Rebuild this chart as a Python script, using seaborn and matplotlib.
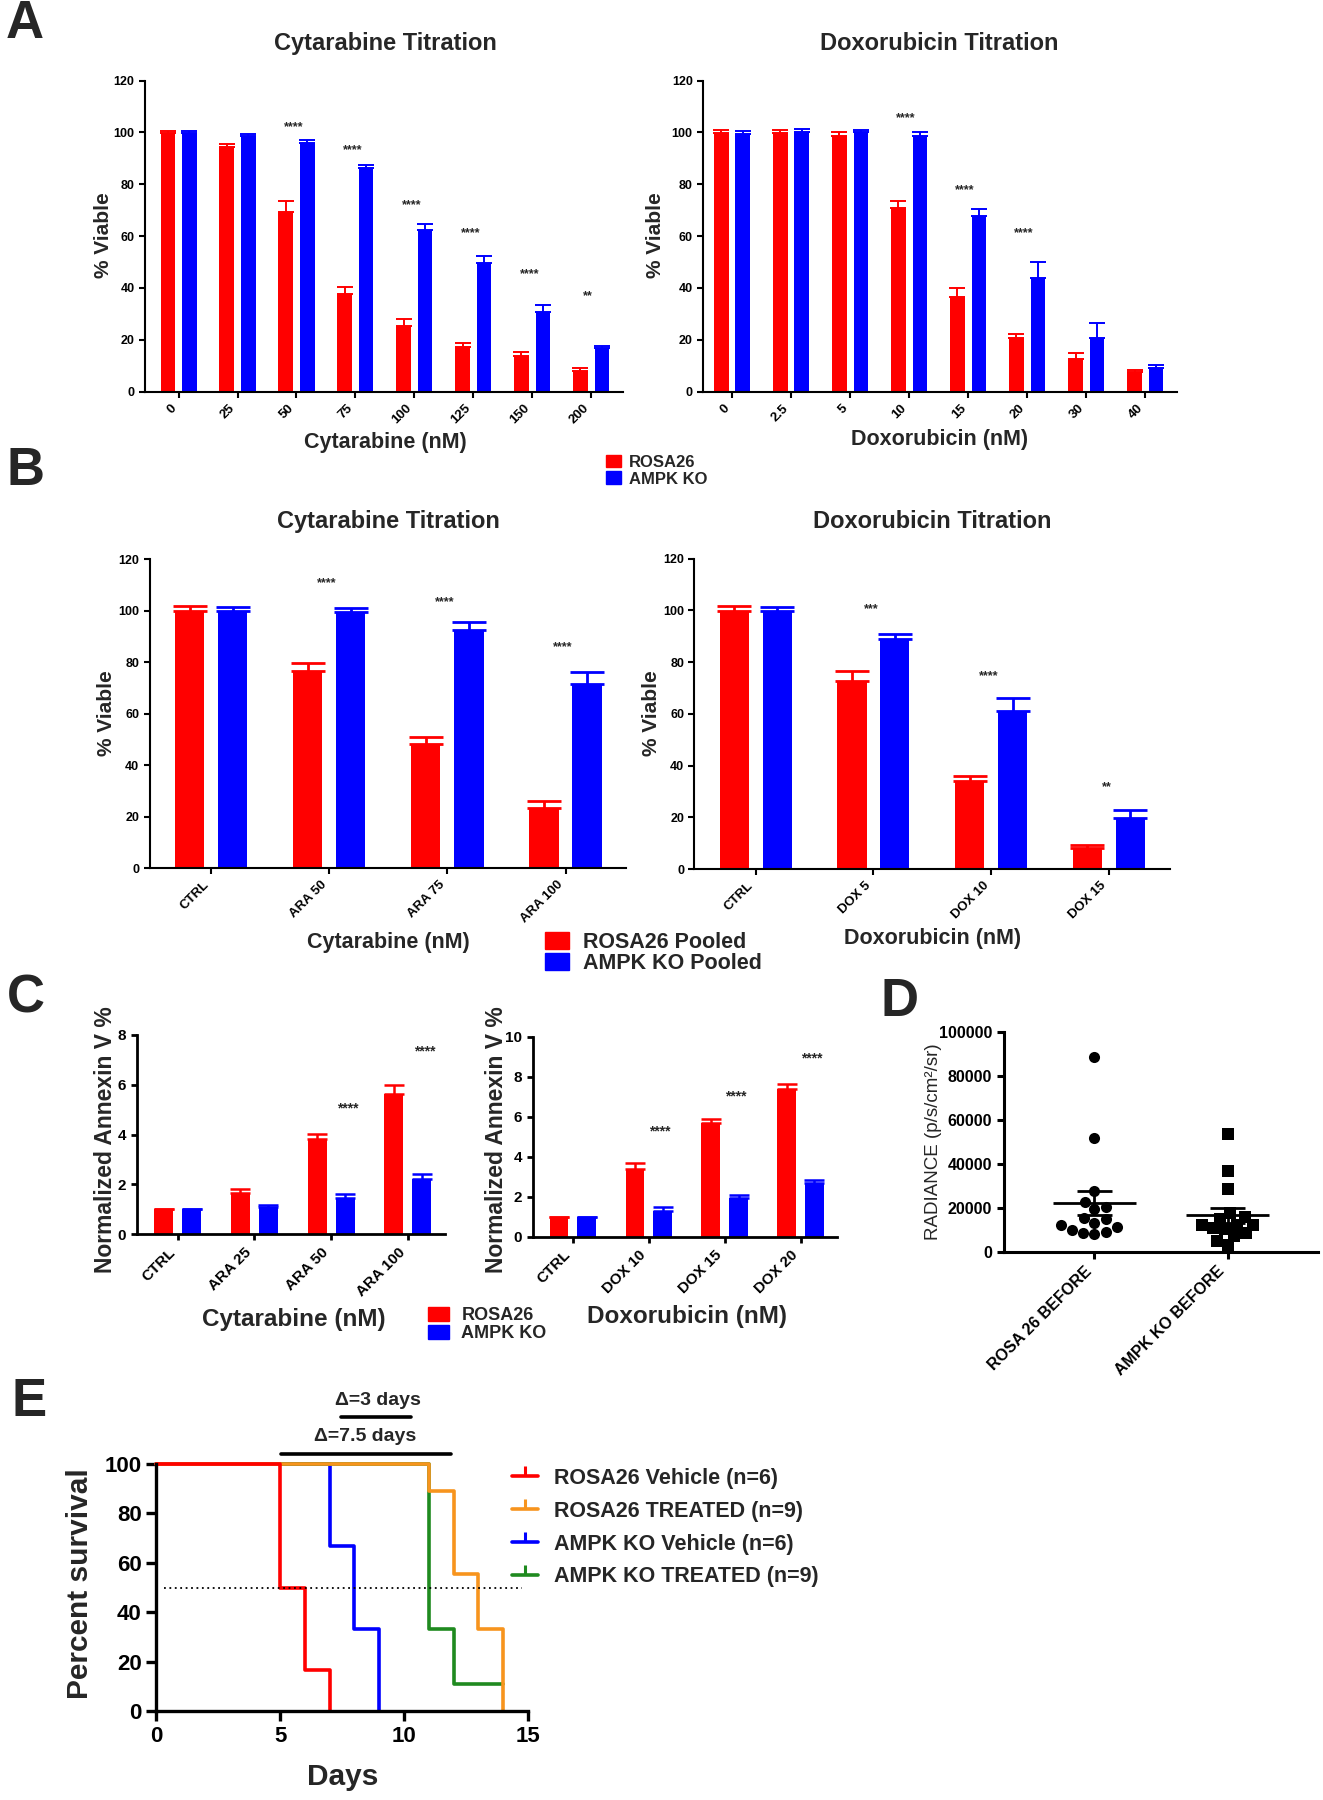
import numpy as np
import pandas as pd
import matplotlib
matplotlib.use("Agg")
import matplotlib.pyplot as plt
import seaborn as sns
from matplotlib.patches import Patch
from matplotlib.lines import Line2D

# ---------------- data ----------------
# Panel A : titrations (% viable, mean and SEM)
cyt_doses = ["0", "25", "50", "75", "100", "125", "150", "200"]
cyt_rosa26 = [99.7, 94.5, 69.5, 37.7, 25.3, 17.4, 13.8, 8.1]
cyt_rosa26_sem = [1.0, 0.9, 4.1, 2.5, 2.6, 1.5, 1.4, 0.9]
cyt_ampk = [99.7, 98.7, 95.8, 86.2, 62.4, 49.5, 30.9, 16.7]
cyt_ampk_sem = [1.0, 0.8, 1.3, 1.3, 2.4, 3.0, 2.6, 1.0]
cyt_sig = ["", "", "****", "****", "****", "****", "****", "**"]

dox_doses = ["0", "2.5", "5", "10", "15", "20", "30", "40"]
dox_rosa26 = [99.9, 99.9, 98.8, 71.0, 36.4, 20.6, 12.6, 7.6]
dox_rosa26_sem = [1.0, 1.0, 1.4, 2.5, 3.6, 1.8, 2.2, 0.6]
dox_ampk = [99.6, 100.3, 100.3, 98.8, 67.6, 43.9, 20.9, 9.0]
dox_ampk_sem = [1.0, 1.0, 0.7, 1.2, 3.0, 6.3, 5.5, 1.3]
dox_sig = ["", "", "", "****", "****", "****", "", ""]

# Panel B : pooled titrations
ara_pooled = ["CTRL", "ARA 50", "ARA 75", "ARA 100"]
ara_rosa26_pooled = [100.0, 76.6, 48.1, 23.4]
ara_rosa26_pooled_sem = [1.8, 3.2, 2.7, 2.7]
ara_ampk_pooled = [100.0, 99.3, 92.6, 71.4]
ara_ampk_pooled_sem = [1.3, 1.7, 3.1, 4.7]
ara_pooled_sig = ["", "****", "****", "****"]

dox_pooled = ["CTRL", "DOX 5", "DOX 10", "DOX 15"]
dox_rosa26_pooled = [99.9, 72.7, 34.2, 8.0]
dox_rosa26_pooled_sem = [1.8, 3.7, 1.9, 1.4]
dox_ampk_pooled = [99.8, 88.9, 61.0, 19.9]
dox_ampk_pooled_sem = [1.4, 2.1, 5.3, 3.0]
dox_pooled_sig = ["", "***", "****", "**"]

# Panel C : normalized Annexin V
ara_annexin = ["CTRL", "ARA 25", "ARA 50", "ARA 100"]
ara_annexin_rosa26 = [1.0, 1.65, 3.84, 5.65]
ara_annexin_rosa26_sem = [0.0, 0.17, 0.20, 0.35]
ara_annexin_ampk = [1.0, 1.11, 1.47, 2.23]
ara_annexin_ampk_sem = [0.0, 0.07, 0.16, 0.17]
ara_annexin_sig = ["", "", "****", "****"]

dox_annexin = ["CTRL", "DOX 10", "DOX 15", "DOX 20"]
dox_annexin_rosa26 = [1.0, 3.40, 5.67, 7.37]
dox_annexin_rosa26_sem = [0.0, 0.28, 0.22, 0.27]
dox_annexin_ampk = [1.0, 1.30, 1.95, 2.67]
dox_annexin_ampk_sem = [0.0, 0.18, 0.13, 0.17]
dox_annexin_sig = ["", "****", "****", "****"]

# Panel D : radiance
radiance_groups = ["ROSA 26 BEFORE", "AMPK KO BEFORE"]
radiance_rosa26 = [88600, 51500, 27700, 22400, 20200, 19500, 15300, 14700,
                   13200, 12000, 11100, 9800, 9100, 8000, 8300]
radiance_ampk = [53500, 36700, 28500, 17400, 15900, 14800, 12100, 12100,
                 12000, 10600, 10200, 8300, 7100, 5000, 3000]

# Panel E : survival
surv_labels = ["ROSA26 Vehicle (n=6)", "ROSA26 TREATED (n=9)",
               "AMPK KO Vehicle (n=6)", "AMPK KO TREATED (n=9)"]
rosa_vehicle_days = [0, 5, 6, 7]
rosa_vehicle_surv = [100, 50.0, 16.7, 0]
rosa_treated_days = [0, 11, 12, 13, 14]
rosa_treated_surv = [100, 88.9, 55.6, 33.3, 0]
ampk_vehicle_days = [0, 7, 8, 9]
ampk_vehicle_surv = [100, 66.7, 33.3, 0]
ampk_treated_days = [0, 11, 12, 14]
ampk_treated_surv = [100, 33.3, 11.1, 11.1]

# ---------------- style ----------------
sns.set_theme(style="ticks")
plt.rcParams["font.family"] = ["Liberation Sans", "DejaVu Sans"]
plt.rcParams["font.weight"] = "bold"
plt.rcParams["axes.labelweight"] = "bold"

RED = "#FF0000"
BLUE = "#0000FF"
ORANGE = "#F7941D"
GREEN = "#1F8A1F"

fig = plt.figure(figsize=(13.23, 18.0), dpi=100)


def bar_panel(rect, cats, r, rs, a, as_, sig, sig_y, sig_dx, ylim, yticks, xlim, st):
    ax = fig.add_axes(rect)
    df = pd.DataFrame({"cat": cats + cats, "val": r + a,
                       "grp": ["ROSA26"] * len(cats) + ["AMPK KO"] * len(cats)})
    sns.barplot(data=df, x="cat", y="val", hue="grp", order=cats,
                hue_order=["ROSA26", "AMPK KO"], palette=[RED, BLUE],
                saturation=1, width=0.73, gap=0.32, errorbar=None,
                linewidth=0, legend=False, ax=ax)
    for cont, sem, col in zip(ax.containers, [rs, as_], [RED, BLUE]):
        xs = [p.get_x() + p.get_width() / 2 for p in cont]
        hs = [p.get_height() for p in cont]
        ax.errorbar(xs, hs, yerr=[np.zeros(len(sem)), sem], fmt="none",
                    ecolor=col, elinewidth=st["elw"], capsize=st["cap"],
                    capthick=st["elw"], zorder=3)
    for i, (s, y) in enumerate(zip(sig, sig_y)):
        if s:
            ax.text(i + sig_dx, y, s, ha="center", va="center",
                    fontsize=st["star"], fontweight="bold")
    ax.set_ylim(*ylim)
    ax.set_yticks(yticks)
    ax.set_xlim(*xlim)
    ax.set_xlabel("")
    ax.set_ylabel("")
    for side in ["top", "right"]:
        ax.spines[side].set_visible(False)
    for side in ["left", "bottom"]:
        ax.spines[side].set_linewidth(st["sw"])
        ax.spines[side].set_color("black")
    ax.tick_params(axis="both", direction="out", length=st["tl"],
                   width=st["sw"], color="black", labelcolor="black")
    ax.tick_params(axis="y", labelsize=st["yfs"])
    ax.tick_params(axis="x", labelsize=st["xfs"])
    plt.setp(ax.get_xticklabels(), rotation=45, ha="right", fontweight="bold")
    plt.setp(ax.get_yticklabels(), fontweight="bold")
    return ax


stA = dict(elw=1.4, cap=6, star=9, sw=1.5, tl=4, yfs=9, xfs=9.5)
stB = dict(elw=2.0, cap=12, star=9, sw=1.5, tl=4, yfs=9, xfs=9.5)
stC = dict(elw=1.8, cap=7.5, star=10, sw=2.0, tl=4.5, yfs=11, xfs=11)

# ---- Panel A
bar_panel([0.1096, 0.7824, 0.3613, 0.1728], cyt_doses, cyt_rosa26, cyt_rosa26_sem,
          cyt_ampk, cyt_ampk_sem, cyt_sig, [0, 0, 102, 93, 71.8, 61.3, 45.4, 36.7], -0.05,
          (0, 120), range(0, 121, 20), (-0.57, 7.54), stA)
bar_panel([0.5314, 0.7824, 0.358, 0.1728], dox_doses, dox_rosa26, dox_rosa26_sem,
          dox_ampk, dox_ampk_sem, dox_sig, [0, 0, 0, 105.4, 77.7, 61.2, 0, 0], -0.06,
          (0, 120), range(0, 121, 20), (-0.49, 7.53), stA)
fig.text(0.291, 0.976, "Cytarabine Titration", fontsize=17, ha="center", va="center")
fig.text(0.710, 0.976, "Doxorubicin Titration", fontsize=17, ha="center", va="center")
fig.text(0.291, 0.7539, "Cytarabine (nM)", fontsize=15.5, ha="center", va="center")
fig.text(0.710, 0.7556, "Doxorubicin (nM)", fontsize=15.5, ha="center", va="center")
fig.text(0.0779, 0.8694, "% Viable", fontsize=15, rotation=90, ha="center", va="center")
fig.text(0.4958, 0.8694, "% Viable", fontsize=15, rotation=90, ha="center", va="center")
fig.legend(handles=[Patch(color=RED), Patch(color=BLUE)], labels=["ROSA26", "AMPK KO"],
           loc="upper left", bbox_to_anchor=(0.458, 0.7475), frameon=False,
           fontsize=12, handlelength=0.9, handleheight=0.8, handletextpad=0.5,
           labelspacing=0.1, borderpad=0, borderaxespad=0)

# ---- Panel B
bar_panel([0.1131, 0.5176, 0.3599, 0.1718], ara_pooled, ara_rosa26_pooled, ara_rosa26_pooled_sem,
          ara_ampk_pooled, ara_ampk_pooled_sem, ara_pooled_sig, [0, 110.8, 103.1, 86.0], -0.02,
          (0, 120), range(0, 121, 20), (-0.52, 3.51), stB)
bar_panel([0.5249, 0.5172, 0.3595, 0.1724], dox_pooled, dox_rosa26_pooled, dox_rosa26_pooled_sem,
          dox_ampk_pooled, dox_ampk_pooled_sem, dox_pooled_sig, [0, 100.5, 74.7, 31.6], -0.02,
          (0, 120), range(0, 121, 20), (-0.52, 3.52), stB)
fig.text(0.2933, 0.7102, "Cytarabine Titration", fontsize=17, ha="center", va="center")
fig.text(0.705, 0.7102, "Doxorubicin Titration", fontsize=17, ha="center", va="center")
fig.text(0.2933, 0.4763, "Cytarabine (nM)", fontsize=15.5, ha="center", va="center")
fig.text(0.705, 0.4787, "Doxorubicin (nM)", fontsize=15.5, ha="center", va="center")
fig.text(0.0802, 0.6039, "% Viable", fontsize=15, rotation=90, ha="center", va="center")
fig.text(0.4927, 0.6039, "% Viable", fontsize=15, rotation=90, ha="center", va="center")
fig.legend(handles=[Patch(color=RED), Patch(color=BLUE)],
           labels=["ROSA26 Pooled", "AMPK KO Pooled"],
           loc="upper left", bbox_to_anchor=(0.4123, 0.4822), frameon=False,
           fontsize=15.5, handlelength=1.1, handleheight=0.8, handletextpad=0.65,
           labelspacing=0.0, borderpad=0, borderaxespad=0)

# ---- Panel C
bar_panel([0.1036, 0.3143, 0.2324, 0.1107], ara_annexin, ara_annexin_rosa26, ara_annexin_rosa26_sem,
          ara_annexin_ampk, ara_annexin_ampk_sem, ara_annexin_sig, [0, 0, 5.06, 7.33], 0.22,
          (0, 8), range(0, 9, 2), (-0.53, 3.48), stC)
bar_panel([0.4032, 0.3129, 0.2295, 0.1112], dox_annexin, dox_annexin_rosa26, dox_annexin_rosa26_sem,
          dox_annexin_ampk, dox_annexin_ampk_sem, dox_annexin_sig, [0, 5.27, 7.03, 8.9], 0.15,
          (0, 10), range(0, 11, 2), (-0.52, 3.48), stC)
fig.text(0.0794, 0.3667, "Normalized Annexin V %", fontsize=16.5, rotation=90, ha="center", va="center")
fig.text(0.375, 0.3667, "Normalized Annexin V %", fontsize=16.5, rotation=90, ha="center", va="center")
fig.text(0.2222, 0.2667, "Cytarabine (nM)", fontsize=17.5, ha="center", va="center")
fig.text(0.5194, 0.2685, "Doxorubicin (nM)", fontsize=17.5, ha="center", va="center")
fig.legend(handles=[Patch(color=RED), Patch(color=BLUE)], labels=["ROSA26", "AMPK KO"],
           loc="upper left", bbox_to_anchor=(0.3235, 0.2738), frameon=False,
           fontsize=13, handlelength=1.15, handleheight=0.8, handletextpad=0.7,
           labelspacing=0.05, borderpad=0, borderaxespad=0)

# ---- Panel D
axD = fig.add_axes([0.7589, 0.3046, 0.2373, 0.1222])
dfD = pd.DataFrame({"grp": [radiance_groups[0]] * len(radiance_rosa26)
                    + [radiance_groups[1]] * len(radiance_ampk),
                    "val": radiance_rosa26 + radiance_ampk})
for g, m in zip(radiance_groups, ["o", "s"]):
    sns.swarmplot(data=dfD[dfD["grp"] == g], x="grp", y="val", order=radiance_groups,
                  marker=m, color="black", size=8, ax=axD)
for i, vals in enumerate([radiance_rosa26, radiance_ampk]):
    v = np.asarray(vals, dtype=float)
    mean = v.mean()
    se = v.std(ddof=1) / np.sqrt(len(v))
    axD.hlines(mean, i - 0.31, i + 0.31, color="black", lw=2, zorder=4)
    axD.vlines(i, mean - se, mean + se, color="black", lw=2, zorder=4)
    axD.hlines([mean - se, mean + se], i - 0.13, i + 0.13, color="black", lw=2, zorder=4)
axD.set_ylim(0, 100000)
axD.set_yticks(range(0, 100001, 20000))
axD.set_yticklabels([str(t) for t in range(0, 100001, 20000)])
axD.set_xlim(-0.68, 1.68)
axD.set_xlabel("")
axD.set_ylabel("")
for side in ["top", "right"]:
    axD.spines[side].set_visible(False)
for side in ["left", "bottom"]:
    axD.spines[side].set_linewidth(2.2)
    axD.spines[side].set_color("black")
axD.tick_params(axis="both", direction="out", length=5, width=2.2, color="black",
                labelcolor="black", labelsize=11.5)
plt.setp(axD.get_xticklabels(), rotation=45, ha="right", fontweight="bold")
plt.setp(axD.get_yticklabels(), fontweight="bold")
fig.text(0.7053, 0.366, "RADIANCE (p/s/cm²/sr)", fontsize=13.5, fontweight="normal",
         rotation=90, ha="center", va="center")

# ---- Panel E
axE = fig.add_axes([0.118, 0.0494, 0.281, 0.1373])
curves = [(ampk_vehicle_days, ampk_vehicle_surv, BLUE),
          (ampk_treated_days, ampk_treated_surv, GREEN),
          (rosa_treated_days, rosa_treated_surv, ORANGE),
          (rosa_vehicle_days, rosa_vehicle_surv, RED)]
for days, surv, col in curves:
    sns.lineplot(x=days, y=surv, drawstyle="steps-post", color=col, lw=2.6,
                 estimator=None, clip_on=False, ax=axE)
axE.axhline(50, xmin=0.02, xmax=0.985, ls=(0, (1, 2)), color="black", lw=1.3)
axE.set_xlim(0, 15)
axE.set_ylim(0, 100)
axE.set_xticks([0, 5, 10, 15])
axE.set_yticks(range(0, 101, 20))
axE.set_xlabel("")
axE.set_ylabel("")
for side in ["top", "right"]:
    axE.spines[side].set_visible(False)
for side in ["left", "bottom"]:
    axE.spines[side].set_linewidth(2.4)
    axE.spines[side].set_color("black")
axE.tick_params(axis="both", direction="out", length=7, width=2.4, color="black",
                labelcolor="black", labelsize=16)
plt.setp(axE.get_xticklabels(), fontweight="bold")
plt.setp(axE.get_yticklabels(), fontweight="bold")
# median-difference annotations
axE.plot([5.04, 11.88], [104, 104], color="black", lw=2.6, clip_on=False)
axE.text(8.45, 111, "Δ=7.5 days", fontsize=14, ha="center", va="center", clip_on=False)
axE.plot([7.48, 10.3], [119, 119], color="black", lw=2.6, clip_on=False)
axE.text(8.94, 125.5, "Δ=3 days", fontsize=14, ha="center", va="center", clip_on=False)
fig.text(0.0607, 0.1204, "Percent survival", fontsize=21.5, rotation=90, ha="center", va="center")
fig.text(0.2594, 0.0129, "Days", fontsize=21.5, ha="center", va="center")
handlesE = [Line2D([0], [0], color=c, lw=2.6, marker=2, markersize=7, mew=2.2)
            for c in [RED, ORANGE, BLUE, GREEN]]
fig.legend(handles=handlesE, labels=surv_labels, loc="upper left",
           bbox_to_anchor=(0.387, 0.1845), frameon=False, fontsize=15.5,
           handlelength=1.2, handletextpad=0.75, labelspacing=0.55,
           borderpad=0, borderaxespad=0)

# ---- panel letters
for letter, x, y in [("A", 0.0189, 0.9867), ("B", 0.0189, 0.7383), ("C", 0.0197, 0.4455),
                     ("D", 0.680, 0.4435), ("E", 0.0217, 0.2213)]:
    fig.text(x, y, letter, fontsize=38, fontweight="bold", ha="center", va="center")

fig.savefig("out.png", dpi=100)
